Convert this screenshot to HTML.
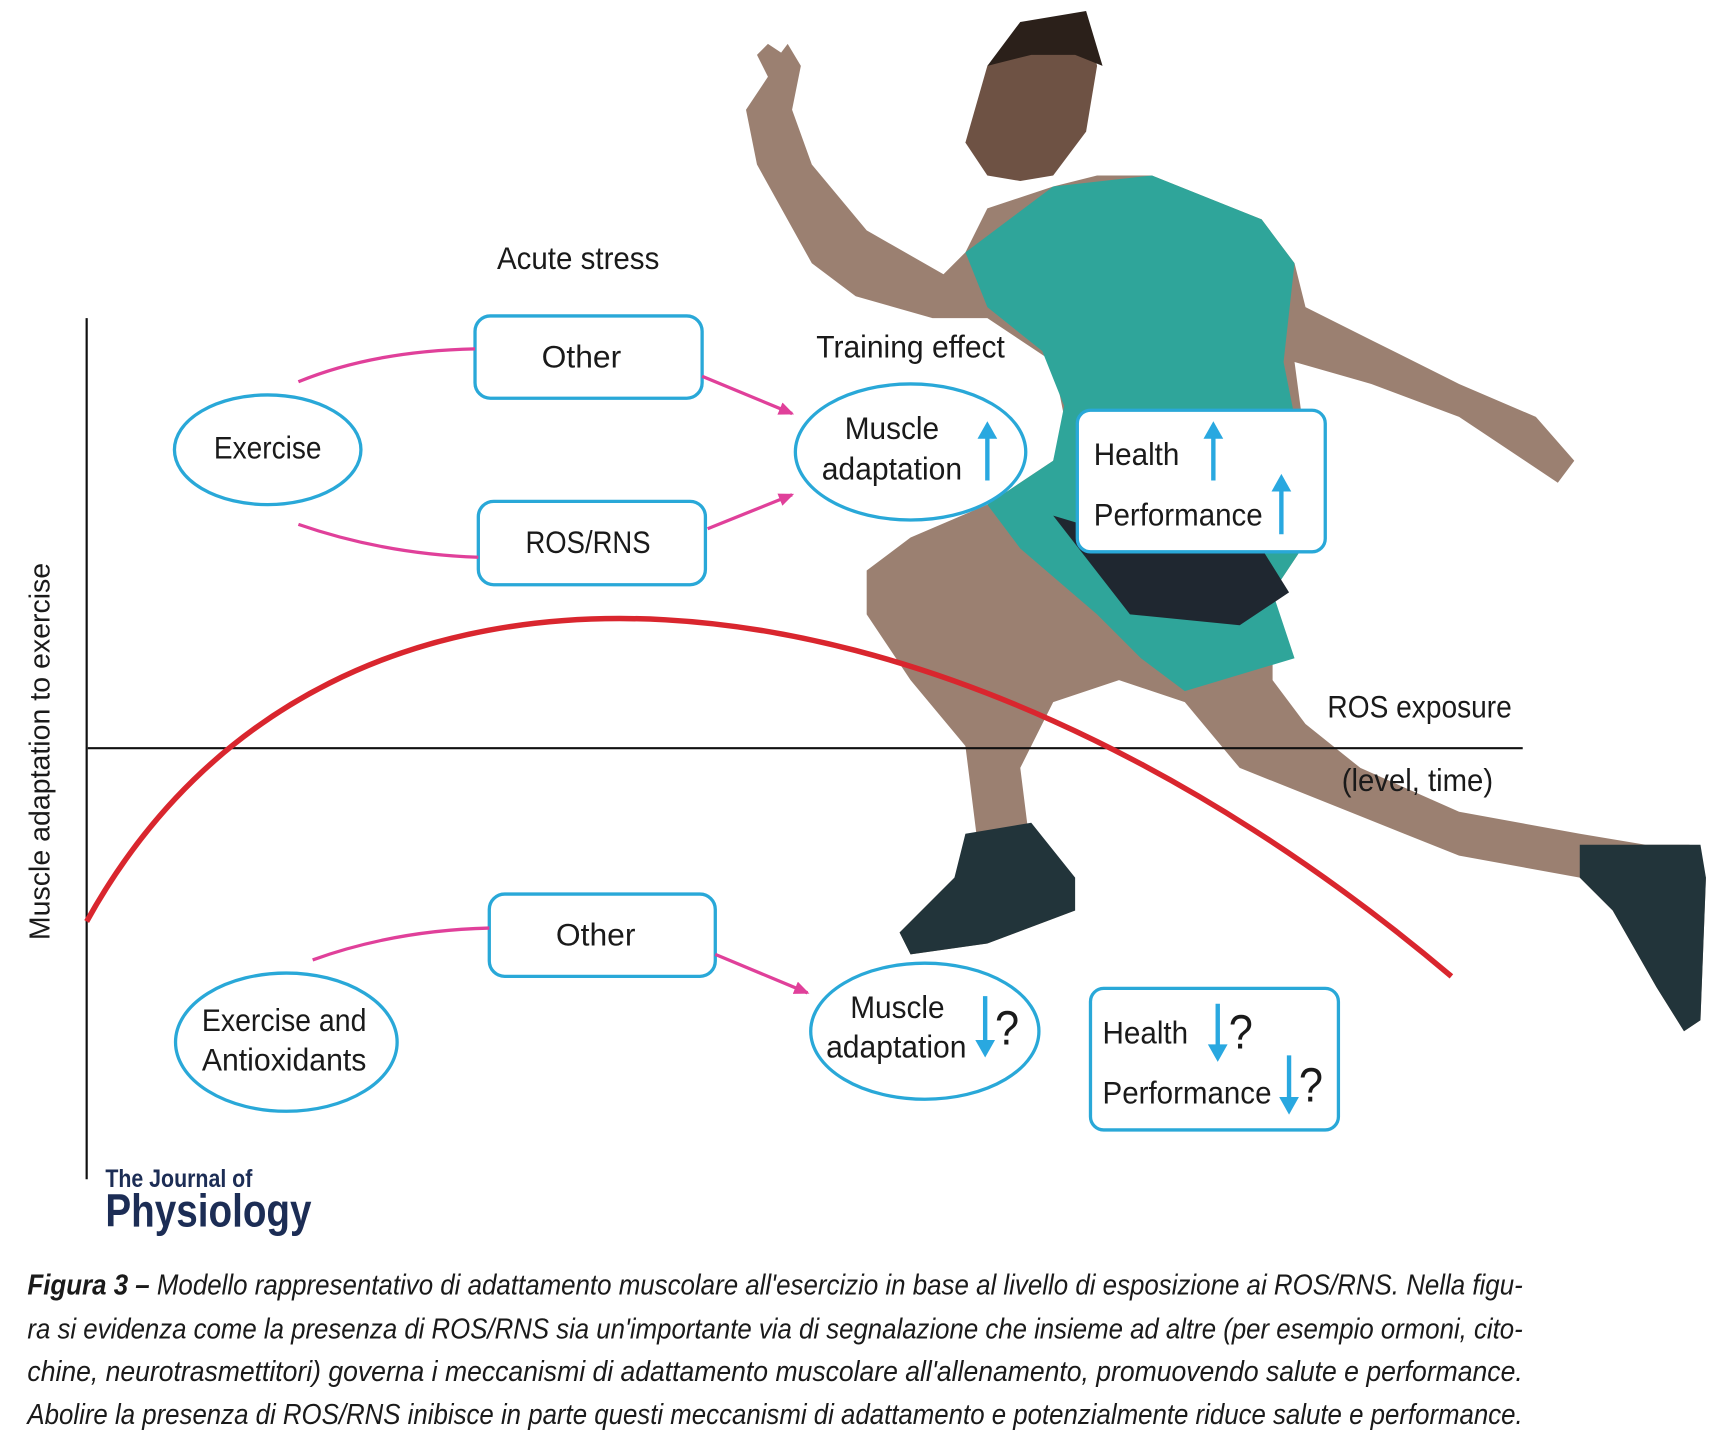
<!DOCTYPE html>
<html><head><meta charset="utf-8"><style>
html,body{margin:0;padding:0;background:#fff;}
svg{display:block;}
text{font-family:"Liberation Sans Narrow","Liberation Sans",sans-serif;fill:#1a1a1a;}
</style></head><body>
<svg width="1718" height="1436" viewBox="0 0 1566 1309" preserveAspectRatio="none" xmlns="http://www.w3.org/2000/svg">
<defs>
<marker id="mg" markerWidth="14" markerHeight="12" refX="12" refY="6" orient="auto" markerUnits="userSpaceOnUse"><path d="M0,0 L14,6 L0,12 z" fill="#e0409a"/></marker>
</defs>
<!-- runner (rough) -->
<g>
<path d="M700,70 L690,50 L700,40 L712,48 L718,40 L730,60 L722,100 L740,150 L790,210 L860,250 L880,230 L900,190 L960,170 L1000,160 L1050,160 L1100,180 L1150,200 L1180,240 L1190,280 L1250,310 L1330,350 L1400,380 L1435,420 L1420,440 L1390,420 L1330,380 L1250,350 L1180,330 L1200,480 L1160,540 L1160,620 L1190,660 L1240,700 L1330,740 L1440,760 L1500,770 L1540,770 L1555,800 L1550,930 L1535,940 L1510,900 L1470,830 L1440,800 L1330,780 L1230,740 L1130,700 L1080,640 L1020,620 L960,640 L930,700 L940,780 L970,800 L980,830 L900,860 L830,870 L820,850 L870,800 L890,760 L880,680 L830,620 L790,560 L790,520 L830,490 L900,460 L960,420 L970,380 L960,330 L900,290 L850,290 L780,270 L740,240 L690,150 L680,100 Z" fill="#8a6a58" opacity="0.85"/>
<path d="M880,230 L960,170 L1050,160 L1150,200 L1180,240 L1170,330 L1200,480 L1160,540 L1180,600 L1080,630 L1040,600 L1000,560 L930,500 L900,460 L960,420 L970,370 L950,320 L900,280 Z" fill="#2fa59a"/>
<path d="M960,470 L1060,500 L1150,500 L1175,540 L1130,570 L1030,560 Z" fill="#1f2730"/>
<path d="M880,130 L900,60 L940,20 L990,15 L1000,60 L990,120 L960,160 L930,165 L900,160 Z" fill="#6e5244"/>
<path d="M900,60 L930,20 L990,10 L1005,60 L980,50 L940,50 Z" fill="#2b201a"/>
<path d="M880,760 L940,750 L980,800 L980,830 L900,860 L830,870 L820,850 L870,800 Z" fill="#22343a"/>
<path d="M1440,770 L1500,770 L1550,770 L1555,800 L1550,930 L1535,940 L1510,900 L1470,830 L1440,800 Z" fill="#22343a"/>
</g>
<!-- axes -->
<line x1="79" y1="290" x2="79" y2="1075" stroke="#111" stroke-width="2"/>
<line x1="80" y1="682" x2="1388" y2="682" stroke="#111" stroke-width="2"/>
<text transform="translate(45,685) rotate(-90)" text-anchor="middle" style="font-family:'Liberation Sans',sans-serif;font-size:26px">Muscle adaptation to exercise</text>
<!-- red curve -->
<path d="M79,840 C300,440 850,490 1323,890" fill="none" stroke="#d9262e" stroke-width="5"/>
<!-- top section -->
<text x="527" y="245" text-anchor="middle" font-size="29" textLength="148" lengthAdjust="spacingAndGlyphs">Acute stress</text>
<text x="830" y="326" text-anchor="middle" font-size="29" textLength="172" lengthAdjust="spacingAndGlyphs">Training effect</text>
<rect x="433" y="288" width="207" height="75" rx="14" fill="#fff" stroke="#29a8d8" stroke-width="3"/>
<text x="530" y="335" text-anchor="middle" font-size="29">Other</text>
<rect x="436" y="457" width="207" height="76" rx="14" fill="#fff" stroke="#29a8d8" stroke-width="3"/>
<text x="536" y="504" text-anchor="middle" font-size="29" textLength="114" lengthAdjust="spacingAndGlyphs">ROS/RNS</text>
<ellipse cx="244" cy="410" rx="85" ry="50" fill="#fff" stroke="#29a8d8" stroke-width="3"/>
<text x="244" y="418" text-anchor="middle" font-size="29" textLength="98" lengthAdjust="spacingAndGlyphs">Exercise</text>
<path d="M272,348 Q340,320 433,318" fill="none" stroke="#e0409a" stroke-width="3"/>
<path d="M272,478 Q350,505 436,508" fill="none" stroke="#e0409a" stroke-width="3"/>
<path d="M640,343 L722,377" fill="none" stroke="#e0409a" stroke-width="3" marker-end="url(#mg)"/>
<path d="M645,482 L722,451" fill="none" stroke="#e0409a" stroke-width="3" marker-end="url(#mg)"/>
<ellipse cx="830" cy="412" rx="105" ry="62" fill="#fff" stroke="#29a8d8" stroke-width="3"/>
<text x="813" y="400" text-anchor="middle" font-size="29" textLength="86" lengthAdjust="spacingAndGlyphs">Muscle</text>
<text x="813" y="437" text-anchor="middle" font-size="29" textLength="128" lengthAdjust="spacingAndGlyphs">adaptation</text>
<line x1="900" y1="438" x2="900" y2="398" stroke="#29a8e0" stroke-width="4"/>
<polygon points="891,400 900,384 909,400" fill="#29a8e0"/>
<rect x="982" y="374" width="226" height="129" rx="12" fill="#fff" stroke="#29a8d8" stroke-width="3"/>
<text x="997" y="424" font-size="29" textLength="78" lengthAdjust="spacingAndGlyphs">Health</text>
<line x1="1106" y1="438" x2="1106" y2="398" stroke="#29a8e0" stroke-width="4"/>
<polygon points="1097,400 1106,384 1115,400" fill="#29a8e0"/>
<text x="997" y="479" font-size="29" textLength="154" lengthAdjust="spacingAndGlyphs">Performance</text>
<line x1="1168" y1="487" x2="1168" y2="446" stroke="#29a8e0" stroke-width="4"/>
<polygon points="1159,448 1168,432 1177,448" fill="#29a8e0"/>
<text x="1210" y="654" font-size="29" textLength="168" lengthAdjust="spacingAndGlyphs">ROS exposure</text>
<text x="1292" y="721" text-anchor="middle" font-size="29" textLength="138" lengthAdjust="spacingAndGlyphs">(level, time)</text>
<!-- bottom section -->
<rect x="446" y="815" width="206" height="75" rx="14" fill="#fff" stroke="#29a8d8" stroke-width="3"/>
<text x="543" y="862" text-anchor="middle" font-size="29">Other</text>
<ellipse cx="261" cy="950" rx="101" ry="63" fill="#fff" stroke="#29a8d8" stroke-width="3"/>
<text x="259" y="940" text-anchor="middle" font-size="29" textLength="150" lengthAdjust="spacingAndGlyphs">Exercise and</text>
<text x="259" y="976" text-anchor="middle" font-size="29" textLength="150" lengthAdjust="spacingAndGlyphs">Antioxidants</text>
<path d="M285,875 Q360,848 446,846" fill="none" stroke="#e0409a" stroke-width="3"/>
<path d="M652,870 L736,905" fill="none" stroke="#e0409a" stroke-width="3" marker-end="url(#mg)"/>
<ellipse cx="843" cy="940" rx="104" ry="62" fill="#fff" stroke="#29a8d8" stroke-width="3"/>
<text x="818" y="928" text-anchor="middle" font-size="29" textLength="86" lengthAdjust="spacingAndGlyphs">Muscle</text>
<text x="817" y="964" text-anchor="middle" font-size="29" textLength="128" lengthAdjust="spacingAndGlyphs">adaptation</text>
<line x1="898" y1="908" x2="898" y2="950" stroke="#29a8e0" stroke-width="4"/>
<polygon points="889,948 898,964 907,948" fill="#29a8e0"/>
<text x="918" y="952" text-anchor="middle" font-size="44" textLength="22" lengthAdjust="spacingAndGlyphs">?</text>
<rect x="994" y="901" width="226" height="129" rx="12" fill="#fff" stroke="#29a8d8" stroke-width="3"/>
<text x="1005" y="951" font-size="29" textLength="78" lengthAdjust="spacingAndGlyphs">Health</text>
<line x1="1110" y1="915" x2="1110" y2="954" stroke="#29a8e0" stroke-width="4"/>
<polygon points="1101,952 1110,968 1119,952" fill="#29a8e0"/>
<text x="1131" y="956" text-anchor="middle" font-size="44" textLength="22" lengthAdjust="spacingAndGlyphs">?</text>
<text x="1005" y="1006" font-size="29" textLength="154" lengthAdjust="spacingAndGlyphs">Performance</text>
<line x1="1175" y1="962" x2="1175" y2="1002" stroke="#29a8e0" stroke-width="4"/>
<polygon points="1166,1000 1175,1016 1184,1000" fill="#29a8e0"/>
<text x="1195" y="1004" text-anchor="middle" font-size="44" textLength="22" lengthAdjust="spacingAndGlyphs">?</text>
<!-- logo -->
<text x="96" y="1082" font-size="23" font-weight="bold" style="fill:#1c2d55" textLength="134" lengthAdjust="spacingAndGlyphs">The Journal of</text>
<text x="96" y="1118" font-size="42" font-weight="bold" style="fill:#1c2d55" textLength="188" lengthAdjust="spacingAndGlyphs">Physiology</text>
<!-- caption -->
<g font-size="26" font-style="italic">
<text x="25" y="1180" textLength="1363" lengthAdjust="spacingAndGlyphs"><tspan font-weight="bold">Figura 3 –</tspan> Modello rappresentativo di adattamento muscolare all'esercizio in base al livello di esposizione ai ROS/RNS. Nella figu-</text>
<text x="25" y="1220" textLength="1363" lengthAdjust="spacingAndGlyphs">ra si evidenza come la presenza di ROS/RNS sia un'importante via di segnalazione che insieme ad altre (per esempio ormoni, cito-</text>
<text x="25" y="1259" textLength="1363" lengthAdjust="spacingAndGlyphs">chine, neurotrasmettitori) governa i meccanismi di adattamento muscolare all'allenamento, promuovendo salute e performance.</text>
<text x="25" y="1298" textLength="1363" lengthAdjust="spacingAndGlyphs">Abolire la presenza di ROS/RNS inibisce in parte questi meccanismi di adattamento e potenzialmente riduce salute e performance.</text>
</g>
</svg>
</body></html>
